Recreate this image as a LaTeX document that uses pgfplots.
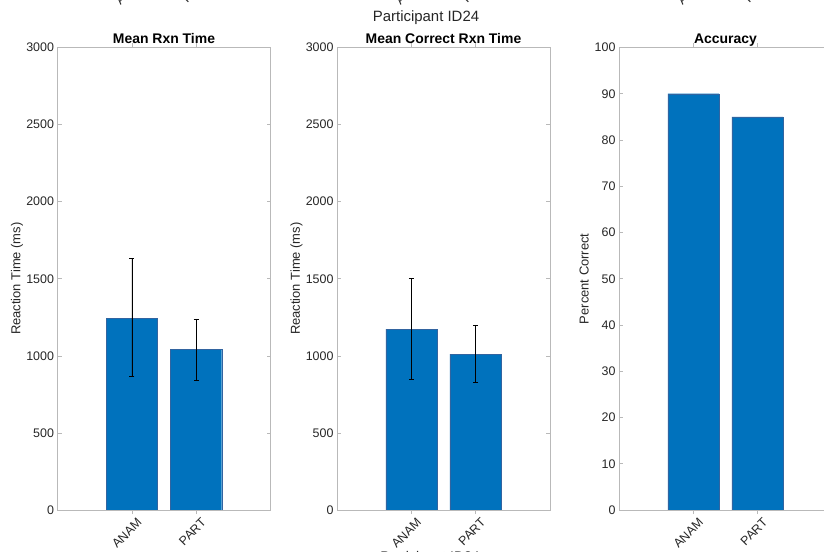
\documentclass[border=0pt]{standalone}
\usepackage{fontspec}
\setmainfont{Liberation Sans}
\usepackage{pgfplots}
\usepackage{pgfplotstable}
\pgfplotsset{compat=1.18}
\definecolor{mblue}{RGB}{0,114,189}
\definecolor{medge}{RGB}{50,100,160}
\definecolor{framec}{RGB}{185,185,185}
\definecolor{txt}{RGB}{38,38,38}

\pgfplotstableread{
x y ep em
1 1245 385 375
2 1040 200 200
}\rtall
\pgfplotstableread{
x y ep em
1 1173 329 322
2 1011 190 182
}\rtcorr
\pgfplotstableread{
x y
1 90
2 85
}\acc

\pgfplotsset{mstyle/.style={
  scale only axis, width=213bp, height=462.5bp, anchor=south west,
  xmin=-0.16, xmax=3.16, ymin=0,
  xtick={1,2}, xticklabels={ANAM,PART},
  axis line style={framec, line width=0.5bp},
  tick style={framec, line width=0.5bp},
  tick align=inside, major tick length=4bp,
  xtick pos=both, ytick pos=both,
  ticklabel style={font=\fontsize{12.5}{14}\selectfont, text=txt},
  xticklabel style={rotate=45, anchor=north east, inner sep=1.5bp, xshift=2.5bp, yshift=-4bp},
  /pgf/number format/assume math mode=true,
  /pgf/number format/1000 sep={},
  title style={font=\bfseries\fontsize{14}{16}\selectfont, text=black, at={(axis description cs:0.5,1)}, anchor=base, yshift=-2bp, inner sep=0pt},
  ylabel style={font=\fontsize{13}{15}\selectfont, text=txt, at={(axis description cs:-0.19,0.5)}, anchor=center},
  ybar, bar width=0.8,
}}
\pgfplotsset{barst/.style={fill=mblue, draw=medge, line width=0.4bp},
  errst/.style={error bars/.cd, y dir=both, y explicit,
    error bar style={black, line width=0.5bp},
    error mark options={rotate=90, mark size=2.5bp, black, line width=0.5bp}}}

\begin{document}
\begin{tikzpicture}
\useasboundingbox (0,0) rectangle (824bp,552bp);
\clip (0,0) rectangle (824bp,552bp);
\begin{axis}[mstyle, at={(57.5bp,42bp)}, ymax=3000, ytick={0,500,...,3000},
  title={Mean Rxn Time}, ylabel={Reaction Time (ms)}]
\addplot[barst, errst] table[x=x, y=y, y error plus=ep, y error minus=em] {\rtall};
\end{axis}
\begin{axis}[mstyle, at={(337bp,42bp)}, ymax=3000, ytick={0,500,...,3000},
  title={Mean Correct Rxn Time}, ylabel={Reaction Time (ms)}]
\addplot[barst, errst] table[x=x, y=y, y error plus=ep, y error minus=em] {\rtcorr};
\end{axis}
\begin{axis}[mstyle, at={(619bp,42bp)}, ymax=100, ytick={0,10,...,100},
  title={Accuracy}, ylabel={Percent Correct},
  ylabel style={at={(axis description cs:-0.164,0.5)}}]
\addplot[barst] table[x=x, y=y] {\acc};
\end{axis}
\node[font=\fontsize{15}{17}\selectfont, anchor=base, text=txt, inner sep=0pt] at (426bp,530.5bp) {Participant ID24};
\node[font=\fontsize{14}{16}\selectfont, anchor=base, text=txt, inner sep=0pt] at (430bp,-9bp) {Participant ID24};
\foreach \xx/\lab in {140/ANAM,204/PART,420/ANAM,484/PART,702/ANAM,766/PART}{
  \node[font=\fontsize{12.5}{14}\selectfont, text=txt, rotate=45, anchor=north east, inner sep=1.5bp] at (\xx bp,580bp) {\lab};
}
\end{tikzpicture}
\end{document}
